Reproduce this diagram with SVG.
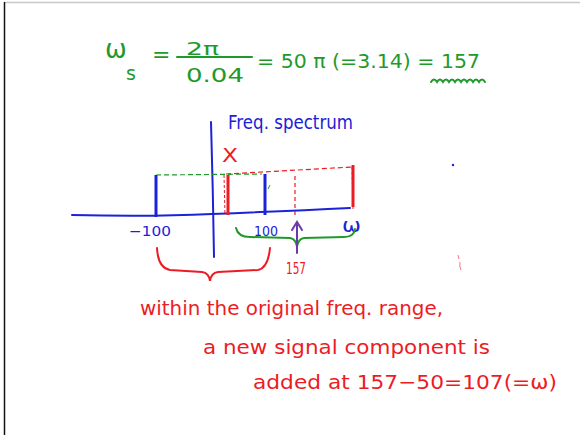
<svg xmlns="http://www.w3.org/2000/svg" width="580" height="435" viewBox="0 0 580 435">
<style>
text{font-family:"DejaVu Sans","Liberation Sans",sans-serif}
.g{fill:#1f9a2a}
.b{fill:#1c22d8}
.r{fill:#ec1c24}
.gs{stroke:#1f9a2a;fill:none;stroke-width:2;stroke-linecap:round}
.bs{stroke:#1c22d8;fill:none;stroke-width:2;stroke-linecap:round}
.rs{stroke:#ec1c24;fill:none;stroke-width:2;stroke-linecap:round}
</style>
<rect width="580" height="435" fill="#fff"/>
<line x1="4" y1="2.5" x2="580" y2="2.5" stroke="#c8c8c8" stroke-width="1.5"/>
<line x1="4.5" y1="2" x2="4.5" y2="435" stroke="#111" stroke-width="1.5"/>

<g id="equation">
<text class="g" x="105" y="58" font-size="26">ω</text>
<text class="g" x="126" y="80" font-size="19">s</text>
<text class="g" x="152" y="62" font-size="22">=</text>
<text class="g" x="186" y="55" font-size="17" textLength="33" lengthAdjust="spacingAndGlyphs">2π</text>
<line class="gs" x1="177" y1="57" x2="252" y2="57"/>
<text class="g" x="186" y="82" font-size="19" textLength="58" lengthAdjust="spacingAndGlyphs">0.04</text>
<text class="g" x="257" y="68" font-size="20" textLength="223" lengthAdjust="spacingAndGlyphs">= 50 π (=3.14) = 157</text>
<path class="gs" d="M431 82 q3-5 6 0 q3-5 6 0 q3-5 6 0 q3-5 6 0 q3-5 6 0 q3-5 6 0 q3-5 6 0 q3-5 6 0 q3-5 6 0" stroke-width="1.8"/>
</g>

<g id="spectrum-labels">
<text class="b" x="228" y="129" font-size="20" textLength="125" lengthAdjust="spacingAndGlyphs">Freq. spectrum</text>
<text class="r" x="222" y="162" font-size="19" textLength="16" lengthAdjust="spacingAndGlyphs">X</text>
<text class="b" x="129" y="236" font-size="14" textLength="42" lengthAdjust="spacingAndGlyphs">−100</text>
<text class="b" x="254" y="236" font-size="14" textLength="24" lengthAdjust="spacingAndGlyphs">100</text>
<text class="b" x="342" y="232" font-size="19" textLength="19" lengthAdjust="spacingAndGlyphs">ω</text>
<text class="r" x="286" y="274" font-size="15" textLength="20" lengthAdjust="spacingAndGlyphs">157</text>
</g>

<g id="axes">
<path class="bs" d="M72 215 Q150 217 212 214 Q290 211 350 208"/>
<path class="bs" d="M211 122 Q213 190 214 257"/>
</g>

<g id="bars">
<line x1="226" y1="174" x2="352" y2="167" stroke="#ec1c24" stroke-width="1.2" stroke-dasharray="5,3"/>
<line x1="156" y1="175" x2="262" y2="174" stroke="#1f9a2a" stroke-width="1.2" stroke-dasharray="5,3"/>
<line x1="295" y1="176" x2="295" y2="217" stroke="#ec1c24" stroke-width="1.2" stroke-dasharray="4,3"/>
<line x1="224" y1="175" x2="225" y2="215" stroke="#ec1c24" stroke-width="1" stroke-dasharray="3,2"/>
<line x1="352" y1="167" x2="353" y2="209" stroke="#ec1c24" stroke-width="1" stroke-dasharray="3,2"/>
<line x1="156" y1="175" x2="156" y2="217" stroke="#1c22d8" stroke-width="3"/>
<line x1="265" y1="174" x2="265" y2="215" stroke="#1c22d8" stroke-width="3"/>
<line x1="228" y1="175" x2="228" y2="215" stroke="#ec1c24" stroke-width="3"/>
<line x1="353" y1="165" x2="353" y2="207" stroke="#ec1c24" stroke-width="3"/>
<path d="M268 189 l2 -4" stroke="#1f9a2a" stroke-width="1" fill="none"/>
</g>

<g id="connectors">
<path class="gs" d="M236 228 Q238 237 250 237 L290 238 Q296 239 297 247 Q298 239 304 238 L344 237 Q354 237 355 229"/>
<path class="rs" d="M157 248 Q158 268 170 270 L202 272 Q209 273 210 281 Q211 273 218 272 L258 270 Q268 268 270 248"/>
<path d="M297 253 L297 223 M292 230 L297 222 L302 230" stroke="#6a3aa8" stroke-width="2" fill="none" stroke-linecap="round"/>
</g>

<g id="note">
<text class="r" x="140" y="315" font-size="20" textLength="303" lengthAdjust="spacingAndGlyphs">within the original freq. range,</text>
<text class="r" x="203" y="354" font-size="20" textLength="287" lengthAdjust="spacingAndGlyphs">a new signal component is</text>
<text class="r" x="253" y="389" font-size="20" textLength="304" lengthAdjust="spacingAndGlyphs">added at 157−50=107(=ω)</text>
</g>

<g id="marks">
<circle cx="453" cy="165" r="1.2" fill="#1c22d8"/>
<path d="M458 255 l1 4 M460 262 q-1 4 1 8" stroke="#ec1c24" stroke-width="1" fill="none" opacity="0.6"/>
</g>
</svg>
